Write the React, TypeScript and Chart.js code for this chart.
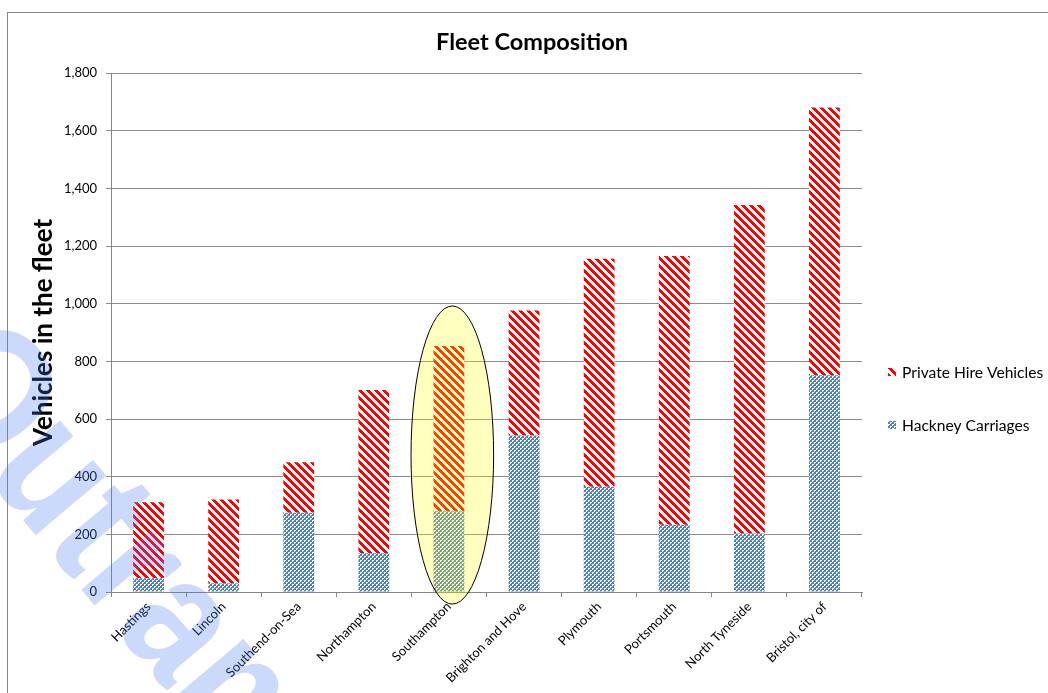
import React, { useEffect, useRef } from "react";
import { Chart, registerables } from "chart.js";

Chart.register(...registerables);

const categories = [
  "Hastings",
  "Lincoln",
  "Southend-on-Sea",
  "Northampton",
  "Southampton",
  "Brighton and Hove",
  "Plymouth",
  "Portsmouth",
  "North Tyneside",
  "Bristol, city of",
];
const hackneyCarriages = [48, 30, 275, 134, 280, 543, 365, 233, 203, 752];
const privateHireVehicles = [263, 291, 175, 567, 573, 433, 791, 932, 1139, 928];
const yTicks = [0, 200, 400, 600, 800, 1000, 1200, 1400, 1600, 1800];
const seriesNames = ["Hackney Carriages", "Private Hire Vehicles"];
const chartTitle = "Fleet Composition";
const yAxisTitle = "Vehicles in the fleet";
const watermarkText = "Outram";
const highlightIndex = 4;
const highlightTop = 992;
const highlightBottom = -42;

const FONT = "Lato, 'Open Sans', sans-serif";

function makeStripePattern(): CanvasPattern | string {
  const c = document.createElement("canvas");
  c.width = 8;
  c.height = 8;
  const g = c.getContext("2d");
  if (!g) return "#ff0000";
  g.fillStyle = "#ffffff";
  g.fillRect(0, 0, 8, 8);
  g.fillStyle = "#ff0000";
  for (let y = 0; y < 8; y++) {
    for (let x = 0; x < 8; x++) {
      if ((((x - y) % 8) + 8) % 8 < 4) g.fillRect(x, y, 1, 1);
    }
  }
  return g.createPattern(c, "repeat") || "#ff0000";
}

function makeCheckerPattern(): CanvasPattern | string {
  const c = document.createElement("canvas");
  c.width = 4;
  c.height = 4;
  const g = c.getContext("2d");
  if (!g) return "#4f81bd";
  g.fillStyle = "#4f81bd";
  g.fillRect(0, 0, 4, 4);
  g.fillStyle = "#ffffff";
  g.fillRect(0, 0, 2, 1);
  g.fillRect(0, 1, 1, 1);
  g.fillRect(2, 2, 2, 1);
  g.fillRect(2, 3, 1, 1);
  return g.createPattern(c, "repeat") || "#4f81bd";
}

export default function App() {
  const ref = useRef<HTMLCanvasElement | null>(null);

  useEffect(() => {
    const canvas = ref.current;
    if (!canvas) return;
    const stripe = makeStripePattern();
    const checker = makeCheckerPattern();

    const frame = {
      id: "frame",
      beforeDraw(chart: any) {
        const ctx = chart.ctx;
        ctx.save();
        ctx.fillStyle = "#ffffff";
        ctx.fillRect(0, 0, chart.width, chart.height);
        ctx.strokeStyle = "#868686";
        ctx.lineWidth = 1;
        ctx.strokeRect(7.5, 12.5, chart.width + 20, chart.height + 40);
        // title
        ctx.fillStyle = "#000000";
        ctx.font = "bold 23.5px " + FONT;
        ctx.textAlign = "center";
        ctx.textBaseline = "middle";
        ctx.fillText(chartTitle, 532, 42);
        ctx.restore();
      },
    };

    const overlay = {
      id: "overlay",
      afterDraw(chart: any) {
        const ctx = chart.ctx;
        const xs = chart.scales.x;
        const ys = chart.scales.y;
        const area = chart.chartArea;
        const cat = (area.right - area.left) / categories.length;

        // highlight ellipse
        const cx = xs.getPixelForValue(highlightIndex) + cat * 0.045;
        const top = ys.getPixelForValue(highlightTop);
        const bottom = ys.getPixelForValue(highlightBottom);
        ctx.save();
        ctx.beginPath();
        ctx.ellipse(cx, (top + bottom) / 2, cat * 0.55, (bottom - top) / 2, 0, 0, Math.PI * 2);
        ctx.fillStyle = "rgba(255,255,0,0.25)";
        ctx.fill();
        ctx.strokeStyle = "#000000";
        ctx.lineWidth = 1;
        ctx.stroke();
        ctx.restore();

        // legend
        const lx = area.right + 26;
        const items = [
          { name: seriesNames[1], fill: stripe, y: 372 },
          { name: seriesNames[0], fill: checker, y: 425 },
        ];
        ctx.save();
        ctx.font = "15.6px " + FONT;
        ctx.textBaseline = "middle";
        ctx.textAlign = "left";
        for (const it of items) {
          ctx.fillStyle = it.fill as any;
          ctx.fillRect(lx, it.y - 4, 8, 8);
          ctx.fillStyle = "#000000";
          ctx.fillText(it.name, lx + 14, it.y + 1);
        }
        ctx.restore();

        // watermark
        ctx.save();
        ctx.translate(-92, 383);
        ctx.rotate((50 * Math.PI) / 180);
        ctx.scale(0.86, 1);
        ctx.font = "bold 175px 'Liberation Sans', Arial, sans-serif";
        ctx.textBaseline = "alphabetic";
        ctx.textAlign = "left";
        ctx.fillStyle = "rgba(70,120,240,0.28)";
        ctx.fillText(watermarkText, 0, 0);
        ctx.restore();
      },
    };

    const chart = new Chart(canvas, {
      type: "bar",
      data: {
        labels: categories,
        datasets: [
          {
            label: seriesNames[0],
            data: hackneyCarriages,
            backgroundColor: checker as any,
            borderWidth: 0,
            barPercentage: 0.41,
            categoryPercentage: 1,
          },
          {
            label: seriesNames[1],
            data: privateHireVehicles,
            backgroundColor: stripe as any,
            borderWidth: 0,
            barPercentage: 0.41,
            categoryPercentage: 1,
          },
        ],
      },
      options: {
        animation: false,
        responsive: false,
        devicePixelRatio: 1,
        layout: { padding: { top: 73, left: 7, right: 186, bottom: 0 } },
        plugins: {
          legend: { display: false },
          tooltip: { enabled: false },
          title: { display: false },
        },
        scales: {
          x: {
            stacked: true,
            afterFit(scale: any) {
              scale.height = 101;
            },
            grid: {
              display: true,
              drawOnChartArea: false,
              drawTicks: true,
              tickLength: 5,
              color: "#868686",
              offset: true,
            },
            border: { color: "#868686" },
            ticks: {
              color: "#000000",
              font: { family: FONT, size: 13 },
              minRotation: 45,
              maxRotation: 45,
              autoSkip: false,
              padding: 2,
            },
          },
          y: {
            stacked: true,
            min: 0,
            max: 1800,
            afterFit(scale: any) {
              scale.width = 104;
            },
            afterBuildTicks(scale: any) {
              scale.ticks = yTicks.map((v) => ({ value: v }));
            },
            grid: { color: "#8c8c8c", tickLength: 5, drawTicks: true },
            border: { color: "#868686" },
            ticks: {
              color: "#000000",
              font: { family: FONT, size: 13 },
              padding: 9,
              callback: (v: any) => Number(v).toLocaleString("en-US"),
            },
            title: {
              display: true,
              text: yAxisTitle,
              color: "#000000",
              font: { family: FONT, size: 26, weight: "bold", lineHeight: 1.2 },
              padding: { top: 21.4, bottom: 0 },
            },
          },
        },
      },
      plugins: [frame, overlay],
    });
    return () => chart.destroy();
  }, []);

  return (
    <div style={{ position: "absolute", left: 0, top: 0, width: 1048, height: 693 }}>
      <canvas ref={ref} width={1048} height={693} style={{ display: "block" }} />
    </div>
  );
}
